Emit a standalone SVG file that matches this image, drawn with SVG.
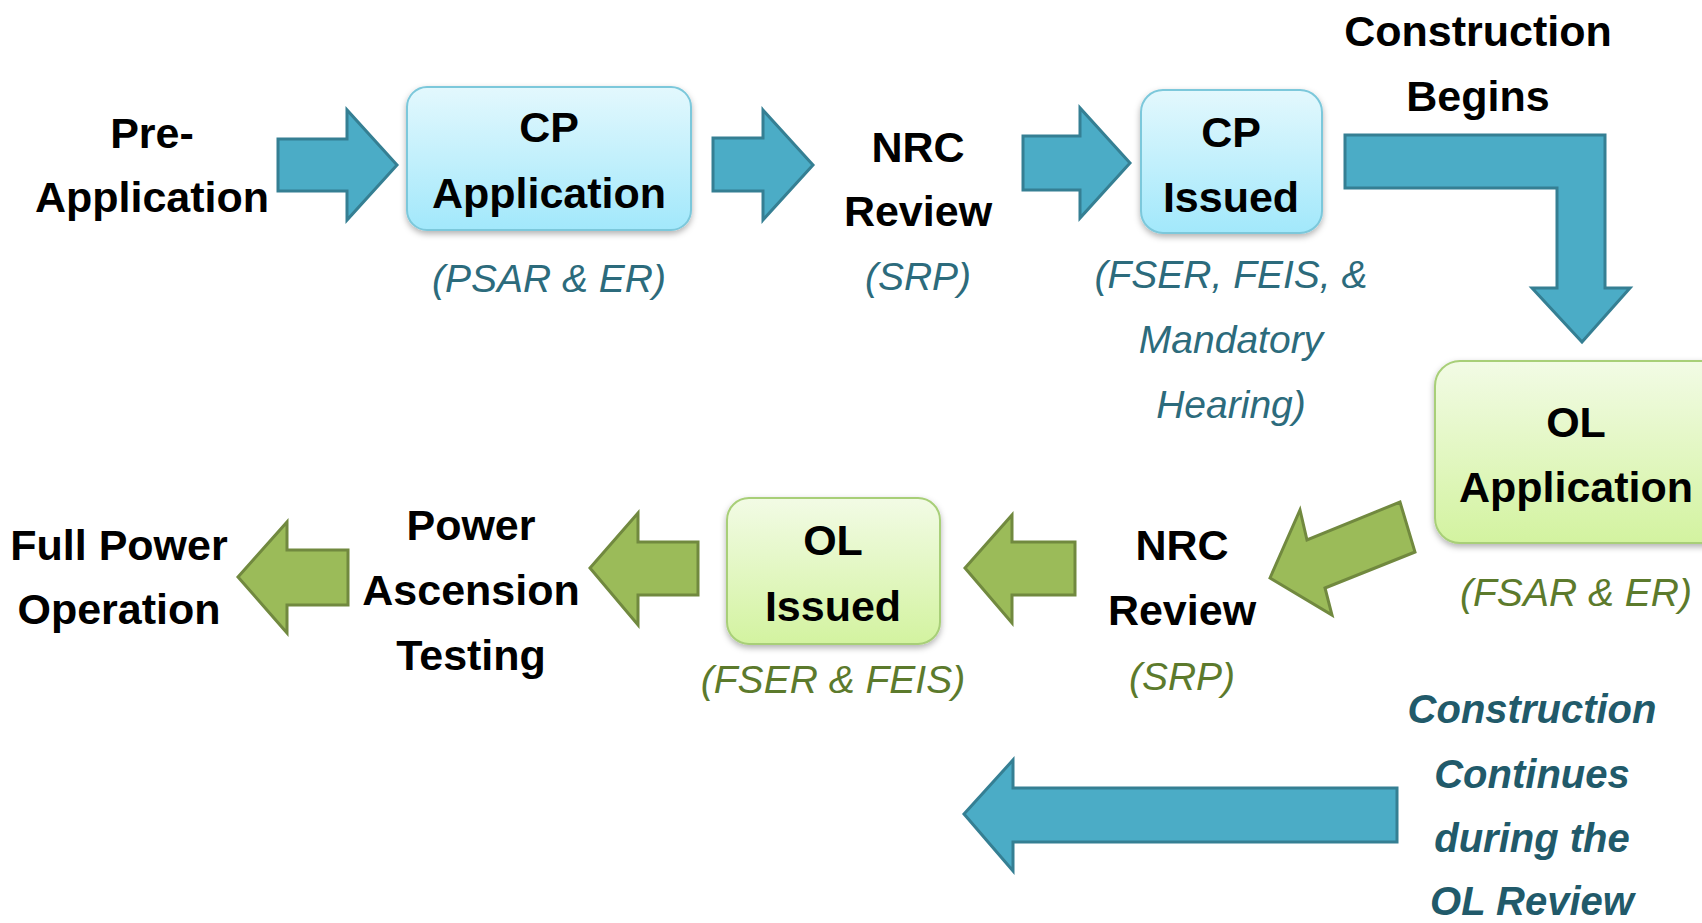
<svg xmlns="http://www.w3.org/2000/svg" width="1702" height="923" viewBox="0 0 1702 923">
  <defs>
    <linearGradient id="gBlue" x1="0" y1="0" x2="0" y2="1">
      <stop offset="0" stop-color="#e3f8fd"/>
      <stop offset="1" stop-color="#a2e8fb"/>
    </linearGradient>
    <linearGradient id="gGreen" x1="0" y1="0" x2="0" y2="1">
      <stop offset="0" stop-color="#f2fbe5"/>
      <stop offset="1" stop-color="#d3f3a0"/>
    </linearGradient>
    <filter id="shadow" x="-10%" y="-10%" width="120%" height="130%">
      <feDropShadow dx="0" dy="3" stdDeviation="3" flood-color="#000" flood-opacity="0.3"/>
    </filter>
  </defs>
  <style>
    .lbl { font-family: "Liberation Sans", Arial, sans-serif; font-weight: bold; font-size: 43px; fill: #000; text-anchor: middle; }
    .subB { font-family: "Liberation Sans", Arial, sans-serif; font-style: italic; font-size: 39px; fill: #2c6b7c; text-anchor: middle; }
    .subG { font-family: "Liberation Sans", Arial, sans-serif; font-style: italic; font-size: 39px; fill: #5c7a2c; text-anchor: middle; }
    .note { font-family: "Liberation Sans", Arial, sans-serif; font-style: italic; font-weight: bold; font-size: 40px; fill: #215a6a; text-anchor: middle; }
    .boxB { fill: url(#gBlue); stroke: #7cc8db; stroke-width: 2; filter: url(#shadow); }
    .boxG { fill: url(#gGreen); stroke: #a8cf78; stroke-width: 2; filter: url(#shadow); }
    .arrB { fill: #4bacc6; stroke: #357f93; stroke-width: 3; stroke-linejoin: miter; }
    .arrG { fill: #9bbb59; stroke: #71893f; stroke-width: 3; stroke-linejoin: miter; }
  </style>

  <rect width="1702" height="923" fill="#ffffff"/>

  <!-- connectors -->
  <g id="connectors">
    <polygon class="arrB" points="278,139 347,139 347,110 397,165 347,220 347,191 278,191"/>
    <polygon class="arrB" points="713,138 763,138 763,110 813,165 763,220 763,191 713,191"/>
    <polygon class="arrB" points="1023,136 1080,136 1080,108 1130,163 1080,218 1080,190 1023,190"/>
    <polygon class="arrB" points="1345,135 1605,135 1605,288 1630,288 1582,342 1532,288 1557,288 1557,188 1345,188"/>
    <polygon class="arrG" points="1270,578 1300,510 1307,540 1400,502 1415,552 1325,588 1332,615"/>
    <polygon class="arrG" points="1075,542 1012,542 1012,515 965,568 1012,623 1012,595 1075,595"/>
    <polygon class="arrG" points="698,542 638,542 638,513 590,568 638,625 638,595 698,595"/>
    <polygon class="arrG" points="348,550 287,550 287,522 238,577 287,633 287,605 348,605"/>
    <polygon class="arrB" points="1397,788 1013,788 1013,760 964,814 1013,871 1013,842 1397,842"/>
  </g>

  <!-- top row -->
  <g id="pre-application">
    <text class="lbl" x="152" y="148">Pre-</text>
    <text class="lbl" x="152" y="212">Application</text>
  </g>

  <g id="cp-application">
    <rect class="boxB" x="407" y="87" width="284" height="143" rx="20"/>
    <text class="lbl" x="549" y="142">CP</text>
    <text class="lbl" x="549" y="208">Application</text>
    <text class="subB" x="549" y="292">(PSAR &amp; ER)</text>
  </g>

  <g id="nrc-review-cp">
    <text class="lbl" x="918" y="162">NRC</text>
    <text class="lbl" x="918" y="226">Review</text>
    <text class="subB" x="918" y="290">(SRP)</text>
  </g>

  <g id="cp-issued">
    <rect class="boxB" x="1141" y="90" width="181" height="143" rx="22"/>
    <text class="lbl" x="1231" y="147">CP</text>
    <text class="lbl" x="1231" y="212">Issued</text>
    <text class="subB" x="1231" y="288">(FSER, FEIS, &amp;</text>
    <text class="subB" x="1231" y="353">Mandatory</text>
    <text class="subB" x="1231" y="418">Hearing)</text>
  </g>

  <g id="construction-begins">
    <text class="lbl" x="1478" y="46">Construction</text>
    <text class="lbl" x="1478" y="111">Begins</text>
  </g>

  <!-- lower row -->
  <g id="ol-application">
    <rect class="boxG" x="1435" y="361" width="300" height="182" rx="25"/>
    <text class="lbl" x="1576" y="437">OL</text>
    <text class="lbl" x="1576" y="502">Application</text>
    <text class="subG" x="1576" y="606">(FSAR &amp; ER)</text>
  </g>

  <g id="nrc-review-ol">
    <text class="lbl" x="1182" y="560">NRC</text>
    <text class="lbl" x="1182" y="625">Review</text>
    <text class="subG" x="1182" y="690">(SRP)</text>
  </g>

  <g id="ol-issued">
    <rect class="boxG" x="727" y="498" width="213" height="146" rx="22"/>
    <text class="lbl" x="833" y="555">OL</text>
    <text class="lbl" x="833" y="621">Issued</text>
    <text class="subG" x="833" y="693">(FSER &amp; FEIS)</text>
  </g>

  <g id="power-ascension">
    <text class="lbl" x="471" y="540">Power</text>
    <text class="lbl" x="471" y="605">Ascension</text>
    <text class="lbl" x="471" y="670">Testing</text>
  </g>

  <g id="full-power">
    <text class="lbl" x="119" y="560">Full Power</text>
    <text class="lbl" x="119" y="624">Operation</text>
  </g>

  <g id="construction-continues">
    <text class="note" x="1532" y="723">Construction</text>
    <text class="note" x="1532" y="788">Continues</text>
    <text class="note" x="1532" y="852">during the</text>
    <text class="note" x="1532" y="915">OL Review</text>
  </g>
</svg>
